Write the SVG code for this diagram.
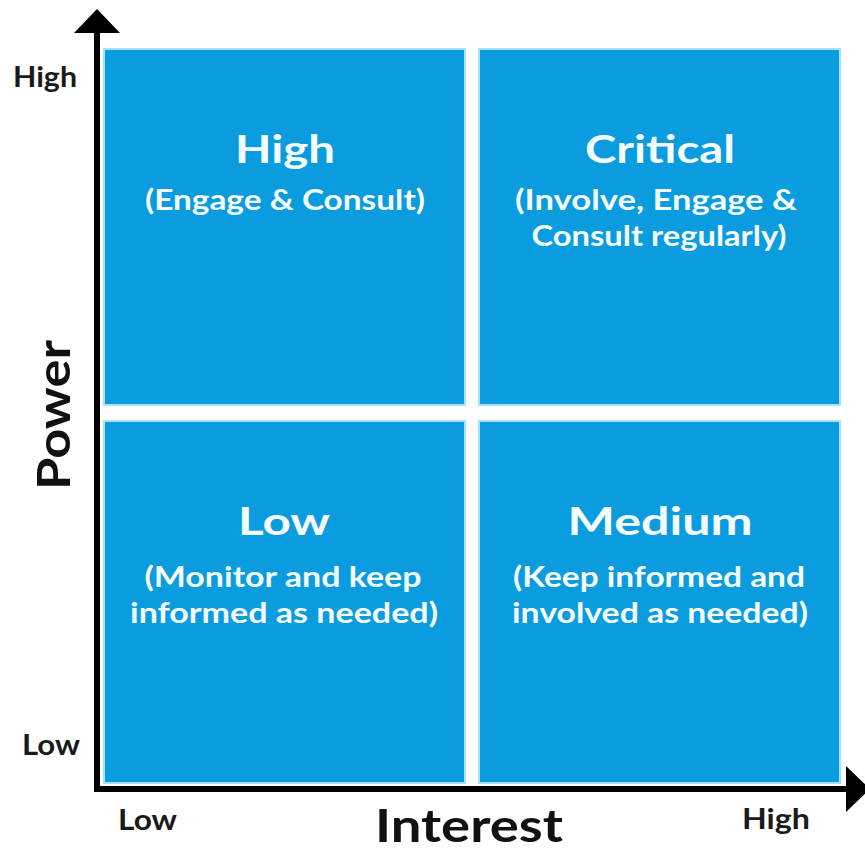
<svg xmlns="http://www.w3.org/2000/svg" width="865" height="852" viewBox="0 0 865 852">
  <style>
    .box { fill: #0A9CDE; stroke: #A8E2F6; stroke-width: 2; }
    .title { font-family: Lato, "Open Sans", "Liberation Sans", sans-serif; font-weight: 700; font-size: 39px; fill: #F4FCFF; text-anchor: middle; }
    .sub { font-family: Lato, "Open Sans", "Liberation Sans", sans-serif; font-weight: 700; font-size: 28px; fill: #F4FCFF; text-anchor: middle; }
    .tick { font-family: Lato, "Open Sans", "Liberation Sans", sans-serif; font-weight: 700; font-size: 28px; fill: #1a1a1a; }
    .axisname { font-family: Lato, "Open Sans", "Liberation Sans", sans-serif; font-weight: 700; fill: #111; }
    .axis { stroke: #000; stroke-width: 6; fill: none; marker-end: url(#arrow); }
  </style>
  <defs>
    <marker id="arrow" markerUnits="userSpaceOnUse" viewBox="0 0 24 46" markerWidth="24" markerHeight="46" refX="4" refY="23" orient="auto">
      <path d="M0,0 L24,23 L0,46 Z" fill="#000"/>
    </marker>
  </defs>
  <rect width="865" height="852" fill="#fff"/>

  <g id="quadrant-high">
    <rect class="box" x="104" y="49" width="361" height="356"/>
    <text class="title" x="285" y="163" textLength="100" lengthAdjust="spacingAndGlyphs">High</text>
    <text class="sub" x="285" y="210" textLength="280" lengthAdjust="spacingAndGlyphs">(Engage &amp; Consult)</text>
  </g>
  <g id="quadrant-critical">
    <rect class="box" x="479" y="49" width="361" height="356"/>
    <text class="title" x="660" y="163" textLength="150" lengthAdjust="spacingAndGlyphs">Critical</text>
    <text class="sub" x="656" y="210" textLength="282" lengthAdjust="spacingAndGlyphs">(Involve, Engage &amp;</text>
    <text class="sub" x="659" y="246" textLength="255" lengthAdjust="spacingAndGlyphs">Consult regularly)</text>
  </g>
  <g id="quadrant-low">
    <rect class="box" x="104" y="421" width="361" height="362"/>
    <text class="title" x="284" y="535" textLength="92" lengthAdjust="spacingAndGlyphs">Low</text>
    <text class="sub" x="283" y="587" textLength="277" lengthAdjust="spacingAndGlyphs">(Monitor and keep</text>
    <text class="sub" x="284" y="623" textLength="308" lengthAdjust="spacingAndGlyphs">informed as needed)</text>
  </g>
  <g id="quadrant-medium">
    <rect class="box" x="479" y="421" width="361" height="362"/>
    <text class="title" x="660" y="535" textLength="185" lengthAdjust="spacingAndGlyphs">Medium</text>
    <text class="sub" x="659" y="587" textLength="292" lengthAdjust="spacingAndGlyphs">(Keep informed and</text>
    <text class="sub" x="660" y="623" textLength="296" lengthAdjust="spacingAndGlyphs">involved as needed)</text>
  </g>

  <g id="connectors">
    <line class="axis" x1="97" y1="792" x2="97" y2="29"/>
    <line class="axis" x1="94" y1="789" x2="850" y2="789"/>
  </g>

  <g id="axis-labels">
    <text class="tick" x="13" y="87" textLength="64" lengthAdjust="spacingAndGlyphs">High</text>
    <text class="tick" x="22" y="755" textLength="58" lengthAdjust="spacingAndGlyphs">Low</text>
    <text class="tick" x="118" y="830" textLength="59" lengthAdjust="spacingAndGlyphs">Low</text>
    <text class="tick" x="742" y="829" textLength="68" lengthAdjust="spacingAndGlyphs">High</text>
    <text class="axisname" font-size="46" x="375" y="842" textLength="188" lengthAdjust="spacingAndGlyphs">Interest</text>
    <text class="axisname" font-size="46" transform="translate(70,490) rotate(-90)" x="0" y="0" textLength="150" lengthAdjust="spacingAndGlyphs">Power</text>
  </g>
</svg>
